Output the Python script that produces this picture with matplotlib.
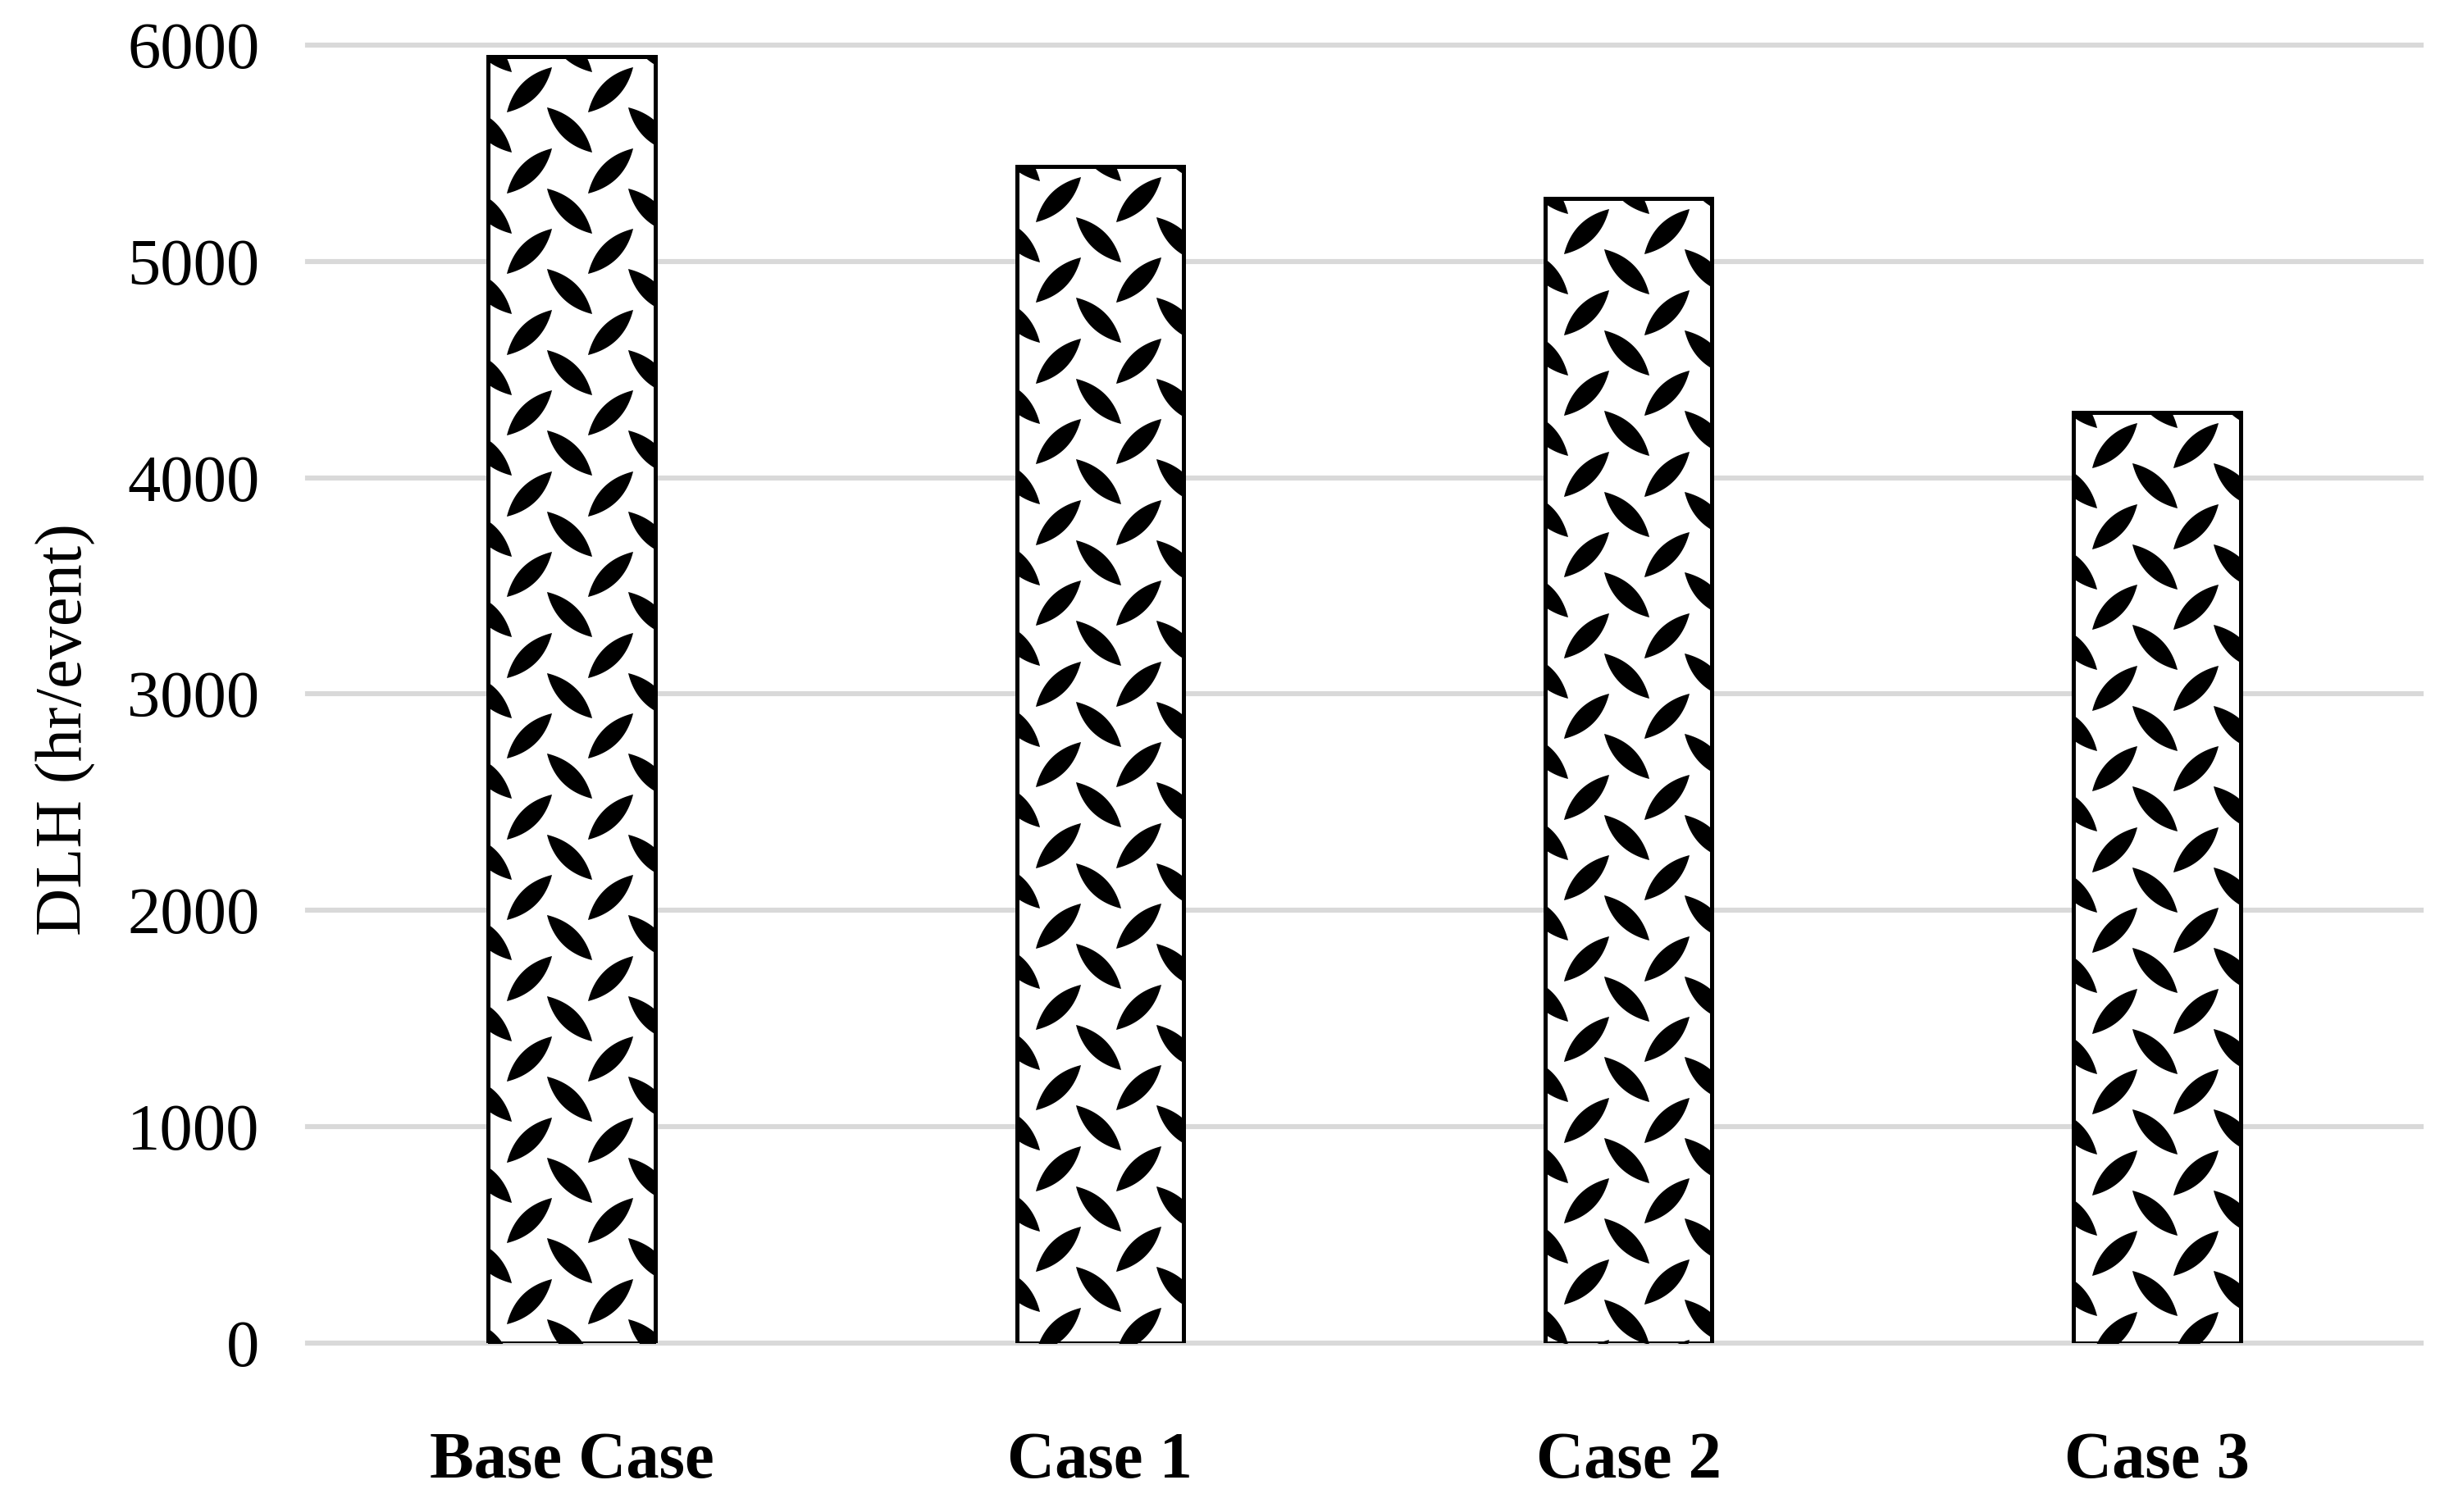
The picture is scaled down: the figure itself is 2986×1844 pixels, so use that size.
import numpy as np
import matplotlib.pyplot as plt
from matplotlib.path import Path

cases = ["Base Case", "Case 1", "Case 2", "Case 3"]
dlh = [5945, 5440, 5290, 4300]
yticks = [0, 1000, 2000, 3000, 4000, 5000, 6000]

plt.rcParams['font.family'] = ['Liberation Serif', 'DejaVu Serif']

def leaf(angle, length=28, width=8.4, n=40):
    # lens shaped marker (diamond plate pattern), sizes in points
    t = np.linspace(-1, 1, n)
    top = np.column_stack([t * length / 2, width / 2 * (1 - t**2)])
    t2 = t[::-1]
    bot = np.column_stack([t2 * length / 2, -width / 2 * (1 - t2**2)])
    v = np.vstack([top, bot])
    a = np.radians(angle)
    rot = np.array([[np.cos(a), -np.sin(a)], [np.sin(a), np.cos(a)]])
    v = v @ rot.T
    return Path(np.vstack([v, v[:1]]), closed=True)

fig = plt.figure(figsize=(14.93, 9.22), dpi=200)
ax = fig.add_axes([0.1256, 0.1117, 0.8630, 0.8585])

x = np.arange(len(cases))
bw = 0.316
bars = ax.bar(x, dlh, width=bw, color='white', edgecolor='none', zorder=2)
ax.bar(x, dlh, width=bw, color='none', edgecolor='black', linewidth=1.8, zorder=4)

ax.set_xlim(-0.5, 3.5)
ax.set_ylim(0, 6000)

# fill pattern: leaves on a ~98 px grid, anchored at each bar's top-left
period = 98.5
inv = ax.transData.inverted()
for rect in bars:
    x0, y0 = rect.get_x(), rect.get_y()
    x1, y1 = x0 + rect.get_width(), y0 + rect.get_height()
    (px0, py0), (px1, py1) = ax.transData.transform([(x0, y0), (x1, y1)])
    ni = int((px1 - px0) / period) + 2
    nj = int((py1 - py0) / period) + 2
    for ang, dx, dy in [(45, 50, 40), (-45, 99, 89)]:
        pts = [(px0 + dx + period * i, py1 - dy - period * j)
               for i in range(-1, ni + 1) for j in range(-1, nj + 1)]
        d = inv.transform(pts)
        p = leaf(ang)
        s = (2 * np.abs(p.vertices).max())**2
        sc = ax.scatter(d[:, 0], d[:, 1], marker=p, s=s, color='black',
                        linewidths=0, zorder=3)
        sc.set_clip_path(rect)

ax.set_xticks(x)
ax.set_xticklabels(cases, fontweight='bold', fontsize=29)
ax.set_yticks(yticks)
ax.set_yticklabels([str(v) for v in yticks], fontsize=29)
ax.tick_params(axis='x', length=0, pad=39)
ax.tick_params(axis='y', length=0, pad=21)

ax.set_axisbelow(True)
ax.yaxis.grid(True, color='#d9d9d9', linewidth=2.2)
for line in ax.get_ygridlines():
    line.set_clip_on(False)
for sp in ax.spines.values():
    sp.set_visible(False)

ax.set_ylabel('DLH (hr/event)', fontsize=29)
ax.yaxis.set_label_coords(-0.1, 0.4725)

fig.savefig('out.png', dpi=200)
